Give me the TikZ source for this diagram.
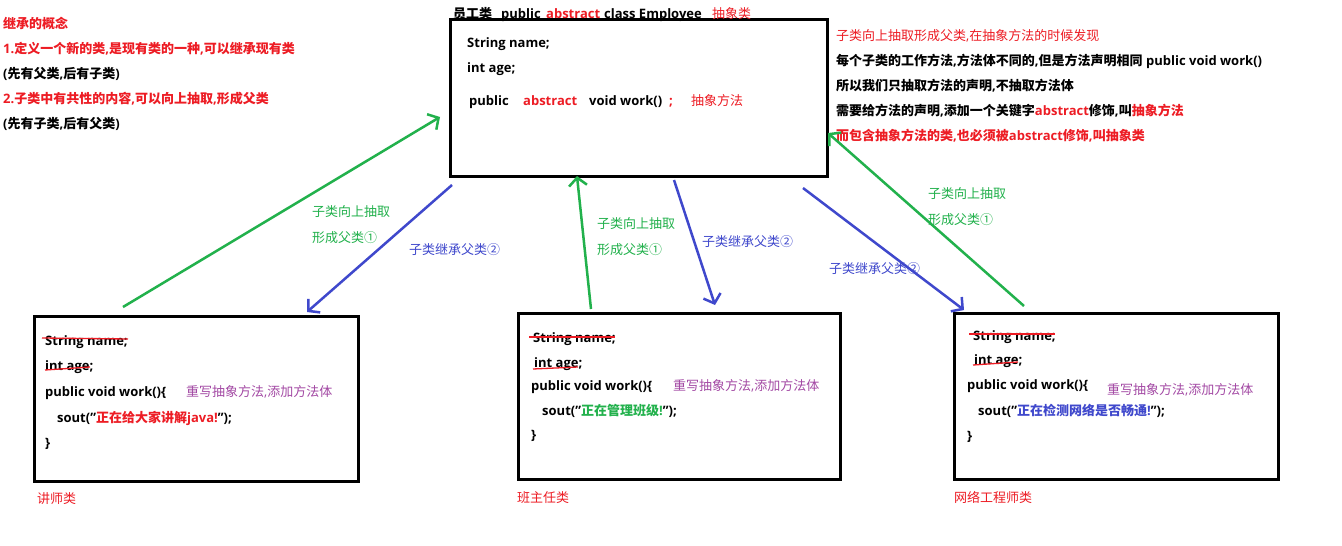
\documentclass[tikz,border=0pt]{standalone}
\usepackage{fontspec}
\setmainfont{Open Sans}
\newfontfamily\zhfont{Noto Sans CJK SC}
\newcommand{\zh}[1]{{\zhfont #1}}
\newcommand{\dq}{\symbol{34}}
\usetikzlibrary{arrows.meta}
\definecolor{pred}{RGB}{237,28,36}
\definecolor{pgreen}{RGB}{34,177,76}
\definecolor{pblue}{RGB}{63,72,204}
\definecolor{ppurple}{RGB}{163,73,164}
\tikzset{
  txt/.style={anchor=base west, inner sep=0pt, font=\fontsize{13}{15}\selectfont\bfseries},
  lbl/.style={anchor=base west, inner sep=0pt, font=\fontsize{13}{15}\selectfont},
  box/.style={draw, line width=3pt, inner sep=0pt, anchor=north west},
  conn/.style={line width=2.5pt, -{Straight Barb[length=8pt,width=18pt,line width=2.5pt]}},
  up/.style={conn, draw=pgreen},
  down/.style={conn, draw=pblue},
  strike/.style={draw=pred, line width=1.3pt}
}
\begin{document}
\begin{tikzpicture}[x=1pt,y=-1pt]
\useasboundingbox[fill=white] (0,0) rectangle (1342,546);

% ---------- boxes ----------
\node[box, minimum width=377pt, minimum height=157pt] (emp) at (449,18) {};
\node[box, minimum width=324pt, minimum height=165pt] (teach) at (33,315) {};
\node[box, minimum width=322pt, minimum height=166pt] (head) at (517,312) {};
\node[box, minimum width=324pt, minimum height=166pt] (net) at (953,312) {};

% ---------- top-left notes ----------
\node[txt, text=pred] (n0) at (3,28) {\zh{继承的概念}};
\node[txt, text=pred] (n1) at (3,53) {1.\zh{定义一个新的类},\zh{是现有类的一种},\zh{可以继承现有类}};
\node[txt] (n2) at (3,78) {(\zh{先有父类},\zh{后有子类})};
\node[txt, text=pred] (n3) at (3,103) {2.\zh{子类中有共性的内容},\zh{可以向上抽取},\zh{形成父类}};
\node[txt] (n4) at (3,128) {(\zh{先有子类},\zh{后有父类})};

% ---------- title ----------
\node[txt] (t1) at (453,18) {\zh{员工类}};
\node[txt] (t2) at (501,18) {public};
\node[txt, text=pred] (t3) at (546,18) {abstract};
\node[txt] (t4) at (604,18) {class Employee};
\node[lbl, text=pred] (t5) at (712,18) {\zh{抽象类}};

% ---------- employee box content ----------
\node[txt] (e1) at (467,47) {String name;};
\node[txt] (e2) at (467,72) {int age;};
\node[txt] (e3) at (469,105) {public};
\node[txt, text=pred] (e4) at (523,105) {abstract};
\node[txt] (e5) at (589,105) {void work()};
\node[txt, text=pred] (e6) at (669,105) {;};
\node[lbl, text=pred] (e7) at (691,105) {\zh{抽象方法}};

% ---------- right notes ----------
\node[lbl, text=pred] (r1) at (836,40) {\zh{子类向上抽取形成父类},\zh{在抽象方法的时候发现}};
\node[txt] (r2) at (836,65) {\zh{每个子类的工作方法},\zh{方法体不同的},\zh{但是方法声明相同} public void work()};
\node[txt] (r3) at (836,90) {\zh{所以我们只抽取方法的声明},\zh{不抽取方法体}};
\node[txt] (r4) at (836,115) {\zh{需要给方法的声明},\zh{添加一个关键字}\textcolor{pred}{abstract}\zh{修饰},\zh{叫}\textcolor{pred}{\zh{抽象方法}}};
\node[txt, text=pred] (r5) at (836,140) {\zh{而包含抽象方法的类},\zh{也必须被}abstract\zh{修饰},\zh{叫抽象类}};

% ---------- teacher box ----------
\node[txt] (a1) at (45,345) {String name;};
\node[txt] (a2) at (45,370) {int age;};
\node[txt] (a3) at (45,396) {public void work()\{};
\node[lbl, text=ppurple] (a4) at (186,396) {\zh{重写抽象方法},\zh{添加方法体}};
\node[txt] (a5) at (57,422) {sout(\dq\textcolor{pred}{\zh{正在给大家讲解}java!}\dq);};
\node[txt] (a6) at (45,447) {\}};
\node[lbl, text=pred] (a7) at (37,503) {\zh{讲师类}};
\draw[strike] (42,338) -- (128,339);
\draw[strike] (45,370) -- (90,367);

% ---------- head-teacher box ----------
\node[txt] (b1) at (533,342) {String name;};
\node[txt] (b2) at (534,367) {int age;};
\node[txt] (b3) at (531,390) {public void work()\{};
\node[lbl, text=ppurple] (b4) at (673,390) {\zh{重写抽象方法},\zh{添加方法体}};
\node[txt] (b5) at (542,415) {sout(\dq\textcolor{pgreen}{\zh{正在管理班级}!}\dq);};
\node[txt] (b6) at (531,439) {\}};
\node[lbl, text=pred] (b7) at (517,502) {\zh{班主任类}};
\draw[strike] (529,337) -- (615,337);
\draw[strike] (533,369) -- (578,367);

% ---------- network engineer box ----------
\node[txt] (c1) at (973,340) {String name;};
\node[txt] (c2) at (974,364) {int age;};
\node[txt] (c3) at (967,389) {public void work()\{};
\node[lbl, text=ppurple] (c4) at (1107,394) {\zh{重写抽象方法},\zh{添加方法体}};
\node[txt] (c5) at (978,415) {sout(\dq\textcolor{pblue}{\zh{正在检测网络是否畅通}!}\dq);};
\node[txt] (c6) at (967,440) {\}};
\node[lbl, text=pred] (c7) at (954,502) {\zh{网络工程师类}};
\draw[strike] (969,334) -- (1055,334);
\draw[strike] (973,365) -- (1018,362);

% ---------- connector end points ----------
\coordinate (g1s) at (123,307);  \coordinate (g1e) at (440,117);
\coordinate (d1s) at (452,185);  \coordinate (d1e) at (307,312);
\coordinate (g2s) at (591,309);  \coordinate (g2e) at (577,176);
\coordinate (d2s) at (674,180);  \coordinate (d2e) at (715,305);
\coordinate (d3s) at (803,188);  \coordinate (d3e) at (964,310);
\coordinate (g3s) at (1024,306); \coordinate (g3e) at (828,133);

\draw[up] (g1s) -- (g1e);
\draw[down] (d1s) -- (d1e);
\draw[up] (g2s) -- (g2e);
\draw[down] (d2s) -- (d2e);
\draw[down] (d3s) -- (d3e);
\draw[up] (g3s) -- (g3e);

% ---------- connector labels ----------
\node[lbl, text=pgreen] (l1a) at (312,216) {\zh{子类向上抽取}};
\node[lbl, text=pgreen] (l1b) at (312,242) {\zh{形成父类①}};
\node[lbl, text=pblue] (l1c) at (409,254) {\zh{子类继承父类②}};
\node[lbl, text=pgreen] (l2a) at (597,228) {\zh{子类向上抽取}};
\node[lbl, text=pgreen] (l2b) at (597,254) {\zh{形成父类①}};
\node[lbl, text=pblue] (l2c) at (702,246) {\zh{子类继承父类②}};
\node[lbl, text=pgreen] (l3a) at (928,198) {\zh{子类向上抽取}};
\node[lbl, text=pgreen] (l3b) at (928,224) {\zh{形成父类①}};
\node[lbl, text=pblue] (l3c) at (829,273) {\zh{子类继承父类②}};
\end{tikzpicture}
\end{document}
